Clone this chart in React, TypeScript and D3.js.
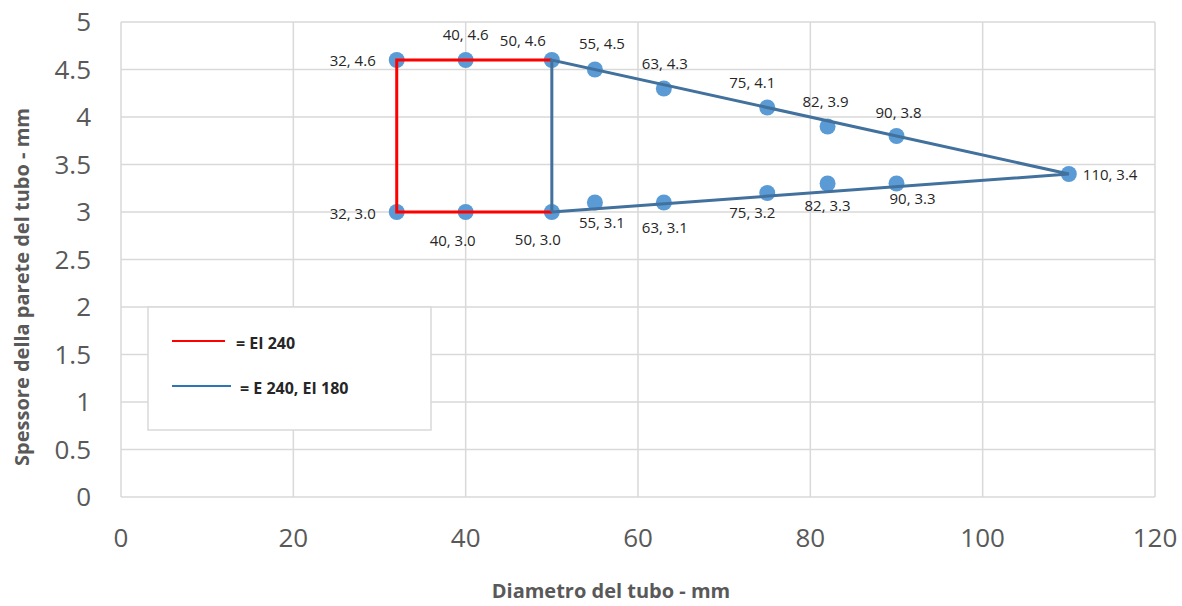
import React from "react";
import * as d3 from "d3";

const diameters = [32, 40, 50, 55, 63, 75, 82, 90, 110, 32, 40, 50, 55, 63, 75, 82, 90];
const thickness = [4.6, 4.6, 4.6, 4.5, 4.3, 4.1, 3.9, 3.8, 3.4, 3.0, 3.0, 3.0, 3.1, 3.1, 3.2, 3.3, 3.3];
// label placement hints: [anchor, dx, dy]
const labelPlacement: [string, number, number][] = [
  ["end", -21, 1], ["middle", 0, -25], ["middle", -29, -19], ["middle", 7, -26],
  ["middle", 1, -25], ["middle", -15, -25], ["middle", -2, -25], ["middle", 2, -23],
  ["start", 14, 1], ["end", -21, 2], ["middle", -13, 29], ["middle", -14, 28],
  ["middle", 7, 20], ["middle", 1, 25], ["middle", -15, 20], ["middle", 0, 22], ["middle", 16, 15],
];
// EI 240 outline
const redX = [50, 32, 32, 50];
const redY = [4.6, 4.6, 3.0, 3.0];
// E 240, EI 180 outline
const blueX = [50, 50, 110, 50];
const blueY = [3.0, 4.6, 3.4, 3.0];

const xTicks = [0, 20, 40, 60, 80, 100, 120];
const yTicks = [0, 0.5, 1, 1.5, 2, 2.5, 3, 3.5, 4, 4.5, 5];
const legendLabels = ["= EI 240", "= E 240, EI 180"];

const W = 1182, H = 606;
const left = 121, right = 1155, top = 22, bottom = 497;

export default function App() {
  const x = d3.scaleLinear().domain([0, 120]).range([left, right]);
  const y = d3.scaleLinear().domain([0, 5]).range([bottom, top]);
  const line = d3.line<[number, number]>().x(d => x(d[0])).y(d => y(d[1]));
  const redPts: [number, number][] = redX.map((v, i) => [v, redY[i]]);
  const bluePts: [number, number][] = blueX.map((v, i) => [v, blueY[i]]);
  const font = "'Open Sans', 'Noto Sans', sans-serif";
  return (
    <svg width={W} height={H} style={{ position: "absolute", left: 0, top: 0, background: "#fff" }} fontFamily={font}>
      <rect x={0} y={0} width={W} height={H} fill="#fff" />
      {yTicks.map(t => (
        <line key={"gy" + t} x1={left} x2={right} y1={y(t)} y2={y(t)} stroke="#d9d9d9" strokeWidth={1.5} />
      ))}
      {xTicks.map(t => (
        <line key={"gx" + t} x1={x(t)} x2={x(t)} y1={top} y2={bottom} stroke="#d9d9d9" strokeWidth={1.5} />
      ))}
      {yTicks.map(t => (
        <text key={"ty" + t} x={91} y={y(t)} dy="0.35em" textAnchor="end" fontSize={26} fill="#595959">{t}</text>
      ))}
      {xTicks.map(t => (
        <text key={"tx" + t} x={x(t)} y={538} dy="0.35em" textAnchor="middle" fontSize={26} fill="#595959">{t}</text>
      ))}
      <text x={611} y={598} textAnchor="middle" fontSize={20} fontWeight="bold" fill="#595959">Diametro del tubo - mm</text>
      <text transform={`translate(29, 287) rotate(-90)`} textAnchor="middle" fontSize={20} fontWeight="bold" fill="#595959">Spessore della parete del tubo - mm</text>

      {/* legend */}
      <rect x={148} y={307} width={283} height={123} fill="#fff" stroke="#d9d9d9" strokeWidth={1.5} />
      <line x1={172} x2={225} y1={341} y2={341} stroke="#ff0000" strokeWidth={2} />
      <text x={236} y={343} dy="0.35em" fontSize={16} fontWeight="bold" fill="#262626">{legendLabels[0]}</text>
      <line x1={172} x2={231} y1={386} y2={386} stroke="#2e75b6" strokeWidth={2} />
      <text x={240} y={388} dy="0.35em" fontSize={16} fontWeight="bold" fill="#262626">{legendLabels[1]}</text>

      {diameters.map((d, i) => (
        <circle key={"p" + i} cx={x(d)} cy={y(thickness[i])} r={8} fill="#5b9bd5" />
      ))}
      <path d={line(redPts) || ""} fill="none" stroke="#ff0000" strokeWidth={3} />
      <path d={line(bluePts) || ""} fill="none" stroke="#41719c" strokeWidth={3} strokeLinejoin="miter" />

      {diameters.map((d, i) => {
        const [anchor, dx, dy] = labelPlacement[i];
        return (
          <text key={"l" + i} x={x(d) + dx} y={y(thickness[i]) + dy} dy="0.35em" textAnchor={anchor as any} fontSize={15} fill="#262626">
            {`${d}, ${thickness[i].toFixed(1)}`}
          </text>
        );
      })}
    </svg>
  );
}
